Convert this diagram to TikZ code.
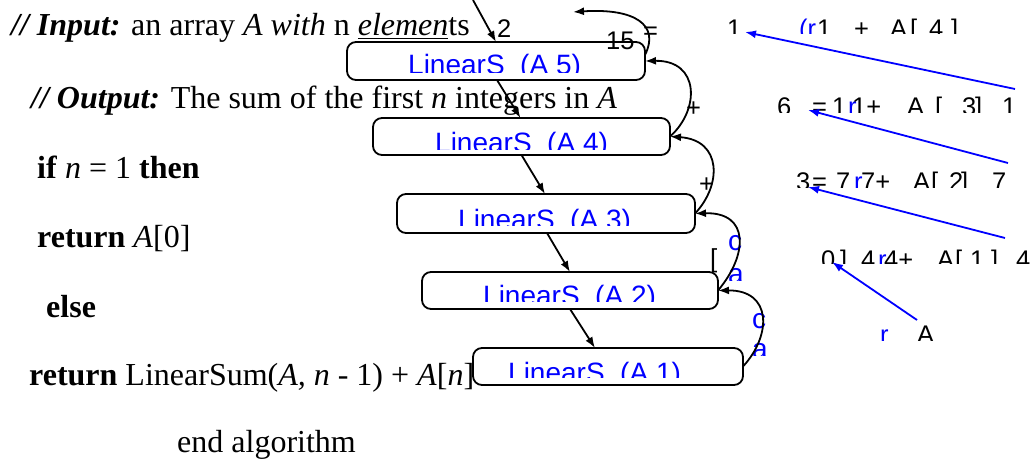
\documentclass[tikz,border=0pt]{standalone}
\usepackage{fontspec}
\setmainfont{Liberation Serif}
\newfontfamily\hv{Liberation Sans}
\usetikzlibrary{arrows.meta}
\begin{document}
\begin{tikzpicture}[x=1pt,y=-1pt,
  serif/.style={font=\fontsize{32}{36}\selectfont, anchor=base west, inner sep=0pt},
  hel/.style={font=\hv\fontsize{25.5}{28}\selectfont, anchor=base west, inner sep=0pt},
  bhel/.style={hel, text=blue},
  lbl/.style={font=\hv\fontsize{28}{30}\selectfont, text=blue, anchor=base west, inner sep=0pt},
  ca/.style={lbl},
  boxst/.style={draw, line width=1.8pt, rounded corners=9pt, inner sep=0pt, outer sep=0pt},
  conn/.style={line width=1.8pt, -{Latex[length=11pt,width=8pt]}},
  bconn/.style={conn, blue}]
\useasboundingbox (0,0) rectangle (1034,460);

% algorithm text
\node[serif] (t1) at (11,36) {\textbf{\textit{// Input:}} an array \textit{A with} n \underline{\textit{elemen}}ts};
\node[serif] (t2) at (31,108) {\textbf{\textit{// Output:}} The sum of the first \textit{n} integers in \textit{A}};
\node[serif] (t3) at (37,178) {\textbf{if} \textit{n} = 1 \textbf{then}};
\node[serif] (t4) at (37,247) {\textbf{return} \textit{A}[0]};
\node[serif] (t5) at (46,317) {\textbf{else}};
\node[serif] (t6) at (29,385) {\textbf{return} LinearSum(\textit{A,} \textit{n} - 1) + \textit{A}[\textit{n}]};
\node[serif] (t7) at (177,452) {end algorithm};

% boxes
\node[boxst, minimum width=298pt, minimum height=38pt] (b5) at (496,61) {};
\node[boxst, minimum width=297pt, minimum height=37pt] (b4) at (521.5,136.5) {};
\node[boxst, minimum width=298pt, minimum height=39pt] (b3) at (546,213.5) {};
\node[boxst, minimum width=296pt, minimum height=37pt] (b2) at (570,290.5) {};
\node[boxst, minimum width=270pt, minimum height=37pt] (b1) at (608,366.5) {};

% clipped box labels
\begin{scope}\clip (347,42) rectangle (645,73);
  \node[lbl] (l5) at (408,75) {LinearS\ \ (A 5)};\end{scope}
\begin{scope}\clip (373,118) rectangle (670,149);
  \node[lbl] (l4) at (435,152) {LinearS\ \ (A 4)};\end{scope}
\begin{scope}\clip (397,194) rectangle (695,225);
  \node[lbl] (l3) at (458,229) {LinearS\ \ (A 3)};\end{scope}
\begin{scope}\clip (422,272) rectangle (718,301);
  \node[lbl] (l2) at (483,305) {LinearS\ \ (A 2)};\end{scope}
\begin{scope}\clip (473,348) rectangle (743,377);
  \node[lbl] (l1) at (508,382) {LinearS\ \ (A 1)};\end{scope}

% small labels near boxes
\node[hel] (n2) at (497,38) {2};
\node[hel] (n15) at (606,50) {15};
\node[hel] (neq) at (643,40) {=};
\node[hel] (pl1) at (686,117) {+};
\node[hel] (pl2) at (699,192) {+};
\begin{scope}\clip (700,240) rectangle (725,272);
  \node[hel, font=\hv\fontsize{26}{28}\selectfont] (brk) at (710,267) {[};\end{scope}
\node[ca] (c1) at (728,250) {c};
\begin{scope}\clip (720,255) rectangle (752,280);
  \node[ca] (a1) at (728,283) {a};\end{scope}
\node[ca] (c2) at (752,328) {c};
\begin{scope}\clip (745,332) rectangle (777,355);
  \node[ca] (a2) at (752,358) {a};\end{scope}

% right rows
\begin{scope}\clip (700,0) rectangle (1034,34);
  \node[hel] (r1a) at (727,38) {1};
  \node[bhel] (r1b) at (799,38) {(r};
  \node[hel] (r1c) at (817,38) {1};
  \node[hel] (r1d) at (854,38) {+};
  \node[hel] (r1e) at (890,38) {A};
  \node[hel] (r1f) at (910,38) {[};
  \node[hel] (r1g) at (929,38) {4};
  \node[hel] (r1h) at (951,38) {]};
\end{scope}
\begin{scope}\clip (700,90) rectangle (1034,112);
  \node[hel] (r2a) at (777,115) {6};
  \node[hel] (r2b) at (812,115) {=};
  \node[hel] (r2c) at (832,115) {1};
  \node[bhel] (r2d) at (848,115) {r};
  \node[hel] (r2e) at (852,115) {1+};
  \node[hel] (r2f) at (907,115) {A};
  \node[hel] (r2g) at (935,115) {[};
  \node[hel] (r2h) at (962,115) {3};
  \node[hel] (r2i) at (975,115) {]};
  \node[hel] (r2j) at (1002,115) {1};
\end{scope}
\begin{scope}\clip (700,165) rectangle (1034,187);
  \node[hel] (r3a) at (796,190) {3};
  \node[hel] (r3b) at (812,190) {=};
  \node[hel] (r3c) at (836,190) {7};
  \node[bhel] (r3d) at (854,190) {r};
  \node[hel] (r3e) at (861,190) {7+};
  \node[hel] (r3f) at (913,190) {A};
  \node[hel] (r3g) at (931,190) {[};
  \node[hel] (r3h) at (949,190) {2};
  \node[hel] (r3i) at (961,190) {]};
  \node[hel] (r3j) at (992,190) {7};
\end{scope}
\begin{scope}\clip (700,240) rectangle (1034,263);
  \node[hel] (r4a) at (821,268) {0};
  \node[hel] (r4b) at (840,268) {]};
  \node[hel] (r4c) at (861,268) {4};
  \node[bhel] (r4d) at (878,268) {r};
  \node[hel] (r4e) at (884,268) {4+};
  \node[hel] (r4f) at (937,268) {A};
  \node[hel] (r4g) at (955,268) {[};
  \node[hel] (r4h) at (970,268) {1};
  \node[hel] (r4i) at (991,268) {]};
  \node[hel] (r4j) at (1016,268) {4};
\end{scope}
\begin{scope}\clip (700,315) rectangle (1034,340);
  \node[bhel] (r5a) at (880,343) {r};
  \node[hel] (r5b) at (917,343) {A};
\end{scope}

% connectors
\coordinate (top) at (473,0);
\coordinate (topl) at (573,12);
\draw[conn] (top) -- (b5.north);
\draw[conn] ([xshift=1pt]b5.south) -- ([xshift=-1pt]b4.north);
\draw[conn] (b4.south) -- ([xshift=-1pt]b3.north);
\draw[conn] ([xshift=1pt]b3.south) -- (b2.north);
\draw[conn] (b2.south) -- ([xshift=-13pt]b1.north);

\draw[conn] (b1.east) .. controls (772,335) and (772,290) .. (b2.east);
\draw[conn] (b2.east) .. controls (748,255) and (750,212) .. (b3.east);
\draw[conn] (b3.east) .. controls (722,185) and (722,140) .. (b4.east);
\draw[conn] (b4.east) .. controls (700,110) and (700,60) .. (b5.east);
\draw[conn] ([yshift=6pt]b5.east) .. controls (660,25) and (635,8) .. (topl);

% blue arrows
\coordinate (p1s) at (1015,89);  \coordinate (p1e) at (745,32);
\coordinate (p2s) at (1008,163); \coordinate (p2e) at (808,110);
\coordinate (p3s) at (1005,238); \coordinate (p3e) at (808,187);
\coordinate (p4s) at (917,320);  \coordinate (p4e) at (832,262);
\draw[bconn] (p1s) -- (p1e);
\draw[bconn] (p2s) -- (p2e);
\draw[bconn] (p3s) -- (p3e);
\draw[bconn] (p4s) -- (p4e);
\end{tikzpicture}
\end{document}
